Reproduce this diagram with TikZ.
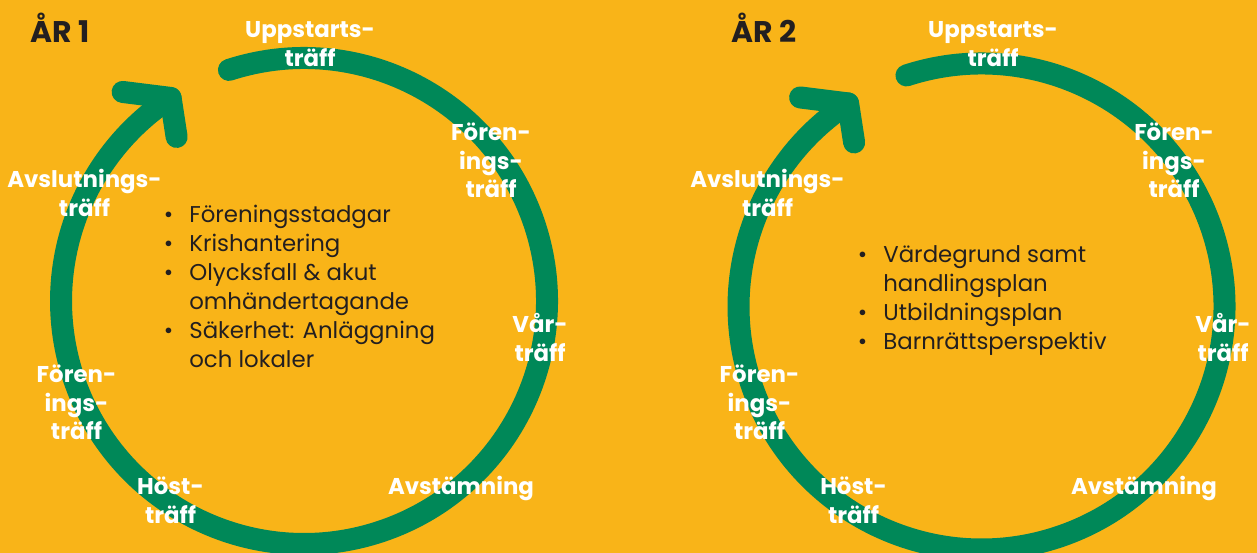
\documentclass[tikz,border=0pt]{standalone}
\usepackage{fontspec}
\setmainfont{Poppins}
\usetikzlibrary{calc}

\definecolor{bgyellow}{HTML}{F9B418}
\definecolor{ringgreen}{HTML}{008858}
\definecolor{inkdark}{HTML}{231F20}

\tikzset{
  ring/.style={draw=ringgreen, line width=0.44cm, line cap=round, line join=round},
  stage/.style={inner sep=0pt, anchor=base, text=white,
    font=\bfseries\fontsize{13}{16.2}\selectfont},
  year/.style={inner sep=0pt, anchor=base west, text=inkdark,
    font=\bfseries\fontsize{17}{20}\selectfont},
  topics/.style={inner sep=0pt, anchor=base west, text=inkdark,
    font=\fontsize{13}{16.4}\selectfont},
}
\newcommand{\stack}[1]{\begin{tabular}[t]{@{}c@{}}#1\end{tabular}}
\newcommand{\bul}{\llap{\textbullet\hspace{0.32cm}}}

\begin{document}
\begin{tikzpicture}[x=0.02cm, y=0.02cm]
  \useasboundingbox (0,0) rectangle (1257,553);
  % background
  \fill[bgyellow] (0,0) rectangle (1257,553);
  \foreach \n/\cx/\cy/\dx in {1/304/252/0, 2/981.5/246.5/683} {
    % ring
    \coordinate (c\n) at (\cx,\cy);
    \draw[ring] (c\n) ++(108:4.86cm) arc[start angle=108, end angle=-236.7, radius=4.86cm];
    % arrow head
    \path (c\n) ++(123.3:4.86cm) coordinate (h\n);
    \draw[ring] ($(h\n)+(-48,6)$) -- (h\n) -- ($(h\n)+(6,-39)$);
    % meetings
    \begin{scope}[shift={(\dx,0)}]
      \node[stage] (up\n) at (310,515) {\stack{Uppstarts-\\träff}};
      \node[stage] (fa\n) at (491,412) {\stack{Fören-\\ings-\\träff}};
      \node[stage] (var\n) at (540,220) {\stack{Vår-\\träff}};
      \node[stage] (avst\n) at (461,58) {Avstämning};
      \node[stage] (host\n) at (170.5,58) {\stack{Höst-\\träff}};
      \node[stage] (fb\n) at (76.5,170) {\stack{Fören-\\ings-\\träff}};
      \node[stage] (avsl\n) at (84.5,365) {\stack{Avslutnings-\\träff}};
    \end{scope}
  }
  % years
  \node[year] (yr1) at (30,510) {ÅR 1};
  \node[year] (yr2) at (731,510) {ÅR 2};
  % topics
  \node[topics] (list1) at (189,330) {\begin{tabular}[t]{@{}l@{}}
    \bul Föreningsstadgar\\
    \bul Krishantering\\
    \bul Olycksfall \& akut\\
    omhändertagande\\
    \bul Säkerhet: Anläggning\\
    och lokaler
  \end{tabular}};
  \node[topics] (list2) at (883,290) {\begin{tabular}[t]{@{}l@{}}
    \bul Värdegrund samt\\
    handlingsplan\\
    \bul Utbildningsplan\\
    \bul Barnrättsperspektiv
  \end{tabular}};
\end{tikzpicture}
\end{document}
